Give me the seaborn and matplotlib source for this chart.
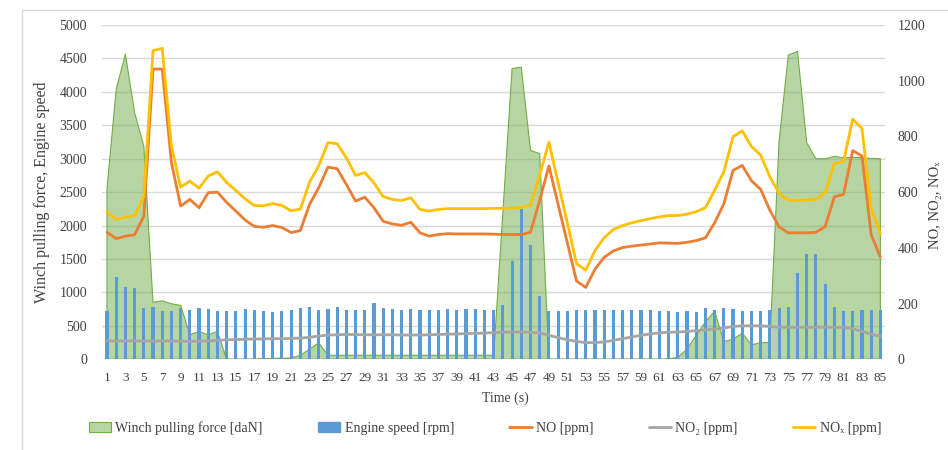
import matplotlib
matplotlib.use("Agg")
import matplotlib.pyplot as plt
from matplotlib.patches import Patch
from matplotlib.lines import Line2D
import seaborn as sns

# ---------------- data ----------------
time_s = list(range(1, 86))

winch_force = [2550, 4040, 4565, 3690, 3190, 850, 875, 830, 805, 365,
               415, 365, 415, 0, 0, 0, 0, 10, 15, 15,
               20, 60, 150, 245, 60, 60, 60, 60, 60, 60,
               60, 60, 60, 60, 60, 60, 60, 60, 60, 60,
               60, 60, 60, 2200, 4350, 4370, 3125, 3075, 0, 0,
               0, 0, 0, 0, 0, 0, 0, 0, 0, 0,
               0, 5, 30, 150, 360, 560, 720, 265, 300, 390,
               215, 250, 250, 3260, 4550, 4605, 3240, 3000, 3000, 3035,
               3015, 3020, 3015, 3005, 3000]

engine_speed = [725, 1230, 1075, 1060, 760, 775, 720, 720, 760, 740,
                760, 750, 725, 725, 725, 750, 740, 715, 710, 725,
                735, 760, 780, 740, 750, 780, 730, 740, 740, 840,
                760, 745, 740, 745, 740, 740, 740, 745, 740, 745,
                745, 740, 740, 815, 1465, 2250, 1715, 950, 715, 715,
                725, 740, 740, 740, 740, 740, 740, 740, 735, 730,
                720, 715, 705, 715, 705, 765, 740, 765, 750, 725,
                720, 720, 740, 760, 780, 1290, 1580, 1580, 1130, 780,
                715, 715, 730, 730, 740]

no_ppm = [456, 433, 442, 447, 514, 1042, 1042, 706, 550, 574,
          544, 598, 600, 563, 532, 500, 477, 474, 480, 473,
          455, 462, 556, 616, 690, 684, 628, 568, 582, 544,
          495, 486, 481, 492, 454, 442, 448, 451, 450, 450,
          450, 450, 449, 448, 448, 448, 456, 571, 694, 556,
          418, 281, 258, 323, 366, 389, 401, 406, 410, 414,
          418, 417, 416, 420, 426, 436, 490, 558, 678, 696,
          641, 610, 535, 475, 454, 454, 454, 456, 476, 583,
          592, 749, 730, 448, 367]

no2_ppm = [66, 66, 66, 66, 66, 65, 66, 66, 65, 64,
           65, 66, 68, 70, 71, 72, 73, 73, 74, 74,
           75, 76, 79, 83, 87, 88, 89, 89, 88, 88,
           88, 88, 87, 87, 87, 88, 89, 90, 91, 92,
           93, 94, 96, 97, 98, 98, 97, 94, 86, 78,
           70, 64, 60, 60, 62, 68, 74, 80, 86, 91,
           95, 97, 98, 100, 103, 106, 108, 112, 118, 120,
           120, 120, 118, 115, 115, 115, 115, 115, 115, 115,
           114, 110, 100, 90, 83]

nox_ppm = [529, 502, 510, 516, 583, 1108, 1116, 766, 618, 640,
           614, 658, 673, 635, 606, 576, 552, 551, 559, 552,
           533, 539, 636, 694, 778, 774, 723, 660, 670, 633,
           584, 574, 570, 580, 538, 532, 538, 541, 541, 541,
           541, 541, 542, 542, 543, 545, 553, 662, 779, 634,
           490, 343, 320, 390, 436, 466, 480, 490, 498, 505,
           511, 516, 516, 521, 530, 544, 607, 673, 799, 820,
           764, 733, 655, 596, 571, 571, 572, 574, 598, 703,
           710, 862, 829, 541, 451]

x_tick_values = list(range(1, 86, 2))
x_tick_labels = [str(v) for v in x_tick_values]
left_ticks = list(range(0, 5001, 500))
right_ticks = list(range(0, 1201, 200))

series_labels = ["Winch pulling force [daN]", "Engine speed [rpm]",
                 "NO [ppm]", "NO\u2082 [ppm]", "NO\u2093 [ppm]"]

# ---------------- style ----------------
sns.set_theme(style="white")
plt.rcParams['font.family'] = ['Liberation Serif', 'DejaVu Serif']
TXT = "#404040"
GREEN_EDGE = "#70AD47"
GREEN_FILL = "#B8D6A3"
BLUE = "#5B9BD5"
ORANGE = "#ED7D31"
GRAY = "#A5A5A5"
YELLOW = "#FFC000"
GRID = "#D9D9D9"

fig = plt.figure(figsize=(9.48, 4.5), dpi=100)
ax = fig.add_axes([0.108, 0.2016, 0.8255, 0.7428])

# area (winch force)
ax.fill_between(time_s, winch_force, 0, facecolor=GREEN_EDGE, alpha=0.5,
                edgecolor="none", zorder=1)
ax.fill_between(time_s, winch_force, 0, facecolor="none",
                edgecolor=GREEN_EDGE, linewidth=0.8, zorder=1.5)

# bars (engine speed)
sns.barplot(x=time_s, y=engine_speed, native_scale=True, width=0.34,
            color=BLUE, saturation=1, errorbar=None, ax=ax, zorder=3,
            edgecolor="none", linewidth=0)

ax.set_xlim(0.5, 85.5)
ax.set_ylim(0, 5000)
ax.set_yticks(left_ticks)
ax.set_yticklabels([str(v) for v in left_ticks])
ax.set_xticks(x_tick_values)
ax.set_xticklabels(x_tick_labels)
ax.yaxis.grid(True, color=GRID, linewidth=1.0, zorder=0)
ax.xaxis.grid(False)
ax.set_axisbelow(True)
ax.tick_params(axis='y', length=0, pad=11, labelsize=10, labelcolor=TXT)
ax.tick_params(axis='x', length=0, pad=9, labelsize=9.5, labelcolor=TXT)
ax.set_xlabel("")
ax.set_ylabel("")
for s in ax.spines.values():
    s.set_visible(False)

# secondary axis lines
ax2 = ax.twinx()
sns.lineplot(x=time_s, y=no_ppm, color=ORANGE, linewidth=2.0, ax=ax2)
sns.lineplot(x=time_s, y=no2_ppm, color=GRAY, linewidth=2.0, ax=ax2)
sns.lineplot(x=time_s, y=nox_ppm, color=YELLOW, linewidth=2.0, ax=ax2)
ax2.set_ylim(0, 1200)
ax2.set_xlim(0.5, 85.5)
ax2.set_yticks(right_ticks)
ax2.set_yticklabels([str(v) for v in right_ticks])
ax2.tick_params(axis='y', length=0, pad=9, labelsize=10, labelcolor=TXT)
ax2.set_ylabel("")
ax2.grid(False)
for s in ax2.spines.values():
    s.set_visible(False)

# titles
fig.text(42 / 948, 1 - 192 / 450, "Winch pulling force, Engine speed",
         rotation=90, ha='center', va='center', fontsize=11.5, color=TXT)
fig.text(935 / 948, 1 - 205 / 450, "NO, NO\u2082, NO\u2093", rotation=90,
         ha='center', va='center', fontsize=10.5, color=TXT)
fig.text(505 / 948, 1 - 398 / 450, "Time (s)", ha='center', va='center',
         fontsize=10, color=TXT)

# legend
handles = [Patch(facecolor=GREEN_FILL, edgecolor=GREEN_EDGE, linewidth=0.8),
           Patch(facecolor=BLUE, edgecolor=BLUE),
           Line2D([0], [0], color=ORANGE, linewidth=2.0),
           Line2D([0], [0], color=GRAY, linewidth=2.0),
           Line2D([0], [0], color=YELLOW, linewidth=2.0)]
leg = fig.legend(handles, series_labels, loc='center',
                 bbox_to_anchor=(485 / 948, 1 - 428 / 450), ncol=5,
                 frameon=False, fontsize=10, columnspacing=4.0,
                 handlelength=1.6, handletextpad=0.3)
for t in leg.get_texts():
    t.set_color(TXT)

# chart border
fig.add_artist(Line2D([22 / 948, 22 / 948], [0, 1 - 10 / 450],
                      transform=fig.transFigure, color=GRID, linewidth=1.0))
fig.add_artist(Line2D([22 / 948, 1], [1 - 10 / 450, 1 - 10 / 450],
                      transform=fig.transFigure, color=GRID, linewidth=1.0))

fig.savefig("out.png", dpi=100)
